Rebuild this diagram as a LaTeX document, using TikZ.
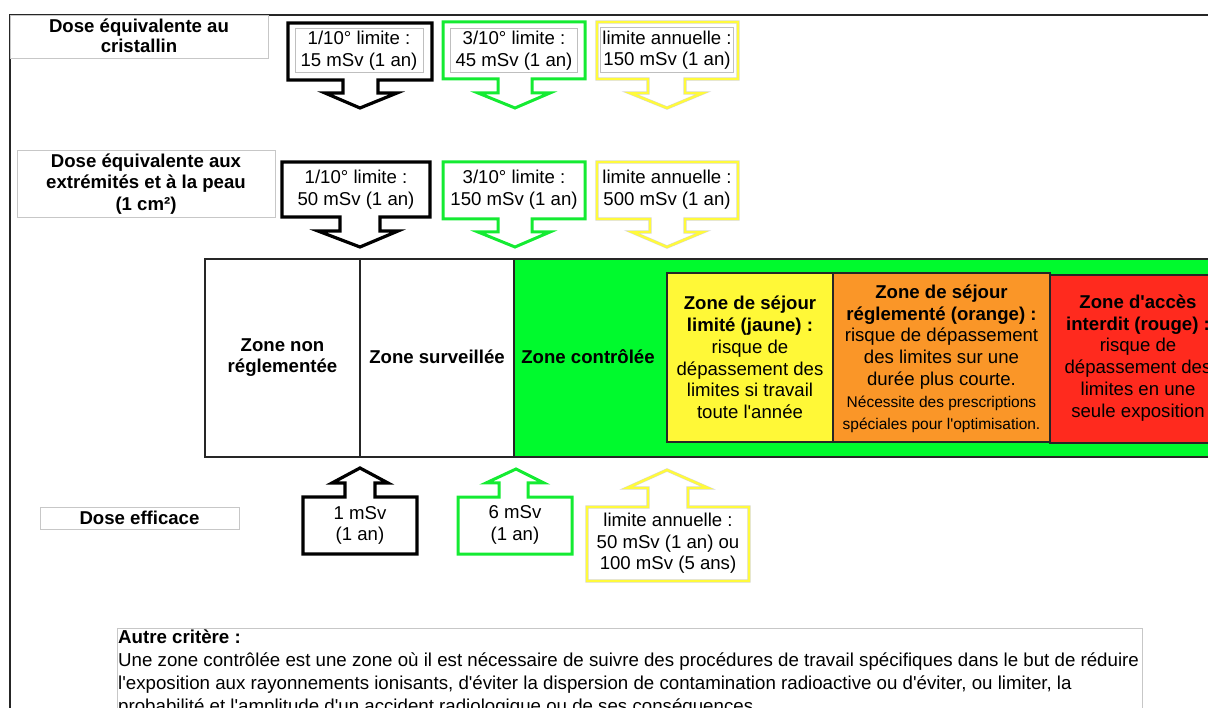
\documentclass[tikz,border=0pt]{standalone}
\usepackage{fontspec}
\setmainfont{Liberation Sans}[Ligatures=TeXOff]
\definecolor{zgreen}{RGB}{0,250,45}
\definecolor{gline}{RGB}{20,235,50}
\definecolor{yline}{RGB}{255,250,60}
\definecolor{zyellow}{RGB}{255,248,55}
\definecolor{zorange}{RGB}{250,150,40}
\definecolor{zred}{RGB}{255,42,30}
\newcommand\smallnote{\fontsize{15.5}{19}\selectfont}
\begin{document}
\begin{tikzpicture}[x=1pt,y=-1pt,
  frameline/.style={draw=black!85,line width=1.8pt},
  lblbox/.style={draw=black!22,line width=0.8pt,fill=white},
  innerbox/.style={draw=black!25,line width=0.8pt},
  blkarrow/.style={draw=black,line width=3.2pt,line join=miter,fill=white},
  grnarrow/.style={draw=gline,line width=3pt,line join=miter,fill=white},
  ylwarrow/.style={draw=black!16,double=yline,double distance=2.4pt,line width=0.45pt,line join=miter},
  zonebox/.style={draw=black!85,line width=1.6pt},
  lbltxt/.style={font=\fontsize{18.6}{20}\bfseries\selectfont,align=center,inner sep=0pt},
  lbltxtb/.style={font=\fontsize{18.6}{21.5}\bfseries\selectfont,align=center,inner sep=0pt},
  valtxt/.style={font=\fontsize{18.6}{21.5}\selectfont,align=center,inner sep=0pt},
  zonetxt/.style={font=\fontsize{18.6}{21.8}\selectfont,align=center,inner sep=0pt},
  bodytxt/.style={font=\fontsize{18.7}{22}\selectfont,anchor=base west,inner sep=0pt}]
\useasboundingbox (0,0) rectangle (1208,708);
\clip (0,0) rectangle (1208,708);

% outer frame
\draw[frameline] (10,15) rectangle (1240,740);

% row 1: lens
\draw[lblbox] (10,15) rectangle (268,58);
\node[lbltxt] (lensl) at (139,36) {Dose équivalente au\\cristallin};

\draw[blkarrow] (288,23) -- (432,23) -- (432,80) -- (378,80) -- (378,93) -- (397,93)
  -- (360,108) -- (325,93) -- (343,93) -- (343,80) -- (288,80) -- cycle;
\draw[innerbox] (295,28) rectangle (423,72);
\node[valtxt] (lensa) at (359,50.5) {1/10° limite :\\15 mSv (1 an)};

\draw[grnarrow] (443,22) -- (585,22) -- (585,79) -- (532,79) -- (532,93) -- (550,93)
  -- (515,108) -- (478,93) -- (498,93) -- (498,79) -- (443,79) -- cycle;
\draw[innerbox] (450,28) rectangle (577,72);
\node[valtxt] (lensb) at (514,50.5) {3/10° limite :\\45 mSv (1 an)};

\draw[ylwarrow] (597,22) -- (738,22) -- (738,79) -- (685,79) -- (685,93) -- (703,93)
  -- (667,108) -- (630,93) -- (648,93) -- (648,79) -- (597,79) -- cycle;
\draw[innerbox] (600,27) rectangle (733,72);
\node[valtxt] (lensc) at (667,50) {limite annuelle :\\150 mSv (1 an)};

% row 2: extremities and skin
\draw[lblbox] (17,150) rectangle (275,217);
\node[lbltxtb] (skinl) at (146,184) {Dose équivalente aux\\extrémités et à la peau\\(1 cm²)};

\draw[blkarrow] (282,162) -- (430,162) -- (430,217) -- (380,217) -- (380,231) -- (398,231)
  -- (360,247) -- (318,231) -- (340,231) -- (340,217) -- (282,217) -- cycle;
\node[valtxt] (skina) at (356,189.5) {1/10° limite :\\50 mSv (1 an)};

\draw[grnarrow] (443,162) -- (585,162) -- (585,219) -- (532,219) -- (532,232) -- (550,232)
  -- (515,247) -- (478,232) -- (498,232) -- (498,219) -- (443,219) -- cycle;
\node[valtxt] (skinb) at (514,189.5) {3/10° limite :\\150 mSv (1 an)};

\draw[ylwarrow] (597,162) -- (738,162) -- (738,219) -- (685,219) -- (685,232) -- (703,232)
  -- (667,247) -- (632,232) -- (650,232) -- (650,219) -- (597,219) -- cycle;
\node[valtxt] (skinc) at (667,189.5) {limite annuelle :\\500 mSv (1 an)};

% zones
\draw[zonebox,fill=white] (205,259) rectangle (360,457);
\draw[zonebox,fill=white] (360,259) rectangle (514,457);
\draw[zonebox,fill=zgreen] (514,259) rectangle (1240,457);
\draw[zonebox,line width=1.3pt,fill=zyellow] (667,273) rectangle (833,442);
\draw[zonebox,line width=1.3pt,fill=zorange] (833,273) rectangle (1050,442);
\draw[zonebox,line width=1.3pt,fill=zred] (1050,275) rectangle (1240,443);

\node[lbltxtb] (znr) at (282.5,357.5) {Zone non\\réglementée};
\node[lbltxtb] (zsv) at (437,357) {Zone surveillée};
\node[lbltxtb] (zct) at (588,357) {Zone contrôlée};
\node[zonetxt] (zja) at (750,357.5) {\textbf{Zone de séjour}\\\textbf{limité (jaune) :}\\risque de\\dépassement des\\limites si travail\\toute l'année};
\node[zonetxt] (zor) at (941.5,358.5) {\textbf{Zone de séjour}\\\textbf{réglementé (orange) :}\\risque de dépassement\\des limites sur une\\durée plus courte.\\\smallnote Nécessite des prescriptions\\\smallnote spéciales pour l'optimisation.};
\node[zonetxt] (zro) at (1138,358) {\textbf{Zone d'accès}\\\textbf{interdit (rouge) :}\\risque de\\dépassement des\\limites en une\\seule exposition};

% row 3: effective dose
\draw[lblbox] (40,507) rectangle (239,529);
\node[lbltxt] (effl) at (139.5,518) {Dose efficace};

\draw[blkarrow] (303,554) -- (417,554) -- (417,497) -- (375,497) -- (375,483) -- (388,483)
  -- (360,468) -- (332,483) -- (345,483) -- (345,497) -- (303,497) -- cycle;
\node[valtxt] (effa) at (360,525.5) {1 mSv\\(1 an)};

\draw[grnarrow] (458,554) -- (572,554) -- (572,497) -- (528,497) -- (528,483) -- (544,483)
  -- (516,469) -- (486,483) -- (499,483) -- (499,497) -- (458,497) -- cycle;
\node[valtxt] (effb) at (515,525) {6 mSv\\(1 an)};

\draw[ylwarrow,fill=white] (587,581) -- (749,581) -- (749,507) -- (688,507) -- (688,488) -- (708,488)
  -- (667,470) -- (627,488) -- (648,488) -- (648,507) -- (587,507) -- cycle;
\node[valtxt] (effc) at (668,543.5) {limite annuelle :\\50 mSv (1 an) ou\\100 mSv (5 ans)};

% other criterion
\draw[lblbox] (117,628) rectangle (1142,740);
\node[bodytxt] (crit0) at (118,643) {\textbf{Autre critère :}};
\node[bodytxt] (crit1) at (118,666) {Une zone contrôlée est une zone où il est nécessaire de suivre des procédures de travail spécifiques dans le but de réduire};
\node[bodytxt] (crit2) at (118,689) {l'exposition aux rayonnements ionisants, d'éviter la dispersion de contamination radioactive ou d'éviter, ou limiter, la};
\node[bodytxt] (crit3) at (118,712) {probabilité et l'amplitude d'un accident radiologique ou de ses conséquences.};
\end{tikzpicture}
\end{document}
